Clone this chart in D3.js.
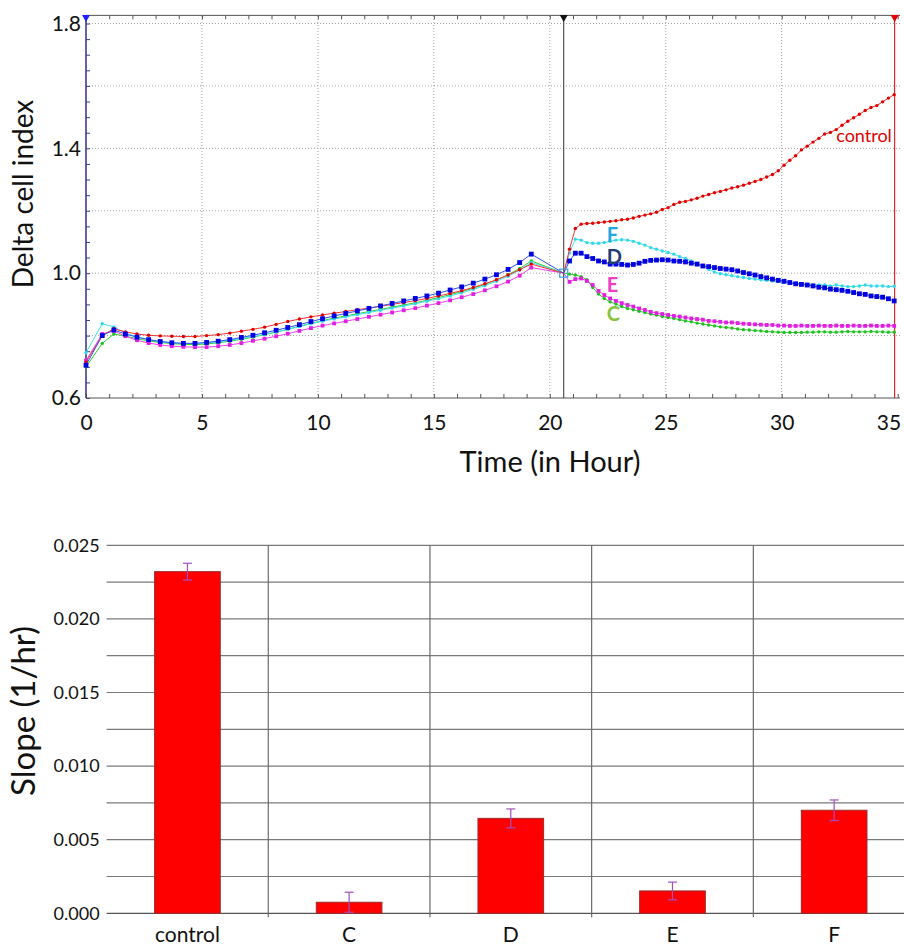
<!DOCTYPE html>
<html>
<head>
<meta charset="utf-8">
<script src="https://cdn.jsdelivr.net/npm/d3@7"></script>
<style>
  body { margin: 0; background: #fff; }
  svg { display: block; font-family: Lato, "Open Sans", sans-serif; }
</style>
</head>
<body>
<svg width="904" height="946"></svg>
<script>
// ---- top chart data: delta cell index over time ----
const hoursPre = [0, 0.7, 1.2, 1.7, 2.2, 2.7, 3.2, 3.7, 4.2, 4.7, 5.2, 5.7, 6.2, 6.7, 7.2, 7.7, 8.2, 8.7, 9.2, 9.7,
  10.2, 10.7, 11.2, 11.7, 12.2, 12.7, 13.2, 13.7, 14.2, 14.7, 15.2, 15.7, 16.2, 16.7, 17.2, 17.7, 18.2, 18.7, 19.2];
const normHour = 20.6;
const normValue = 1.0;
const hoursPost = [20.85, 21.1, 21.35, 21.6, 21.85, 22.1, 22.35, 22.6, 22.85, 23.1, 23.35, 23.6, 23.85, 24.1, 24.35,
  24.6, 24.85, 25.1, 25.35, 25.6, 25.85, 26.1, 26.35, 26.6, 26.85, 27.1, 27.35, 27.6, 27.85, 28.1, 28.35, 28.6,
  28.85, 29.1, 29.35, 29.6, 29.85, 30.1, 30.35, 30.6, 30.85, 31.1, 31.35, 31.6, 31.85, 32.1, 32.35, 32.6, 32.85,
  33.1, 33.35, 33.6, 33.85, 34.1, 34.35, 34.6, 34.85];

const controlPre = [0.715, 0.800, 0.822, 0.812, 0.805, 0.801, 0.799, 0.798, 0.797, 0.797, 0.800, 0.803, 0.808, 0.814,
  0.820, 0.827, 0.836, 0.845, 0.853, 0.860, 0.866, 0.872, 0.877, 0.883, 0.888, 0.894, 0.900, 0.906, 0.912, 0.919,
  0.927, 0.935, 0.944, 0.954, 0.966, 0.979, 0.994, 1.011, 1.029];
const controlPost = [1.077, 1.143, 1.157, 1.159, 1.160, 1.162, 1.164, 1.166, 1.168, 1.171, 1.173, 1.177, 1.182, 1.186,
  1.190, 1.195, 1.204, 1.210, 1.220, 1.227, 1.230, 1.235, 1.240, 1.247, 1.252, 1.258, 1.262, 1.267, 1.273, 1.277,
  1.282, 1.288, 1.294, 1.300, 1.308, 1.316, 1.328, 1.346, 1.362, 1.376, 1.395, 1.407, 1.420, 1.432, 1.446, 1.451,
  1.460, 1.474, 1.487, 1.498, 1.509, 1.521, 1.531, 1.537, 1.549, 1.561, 1.572];

const dPre = [0.705, 0.800, 0.818, 0.805, 0.795, 0.787, 0.781, 0.777, 0.775, 0.775, 0.778, 0.782, 0.787, 0.794, 0.801,
  0.809, 0.817, 0.826, 0.835, 0.845, 0.854, 0.863, 0.871, 0.879, 0.887, 0.895, 0.903, 0.911, 0.919, 0.927, 0.936,
  0.946, 0.956, 0.968, 0.981, 0.995, 1.012, 1.034, 1.061];
const dPost = [1.039, 1.064, 1.064, 1.053, 1.047, 1.039, 1.036, 1.029, 1.029, 1.028, 1.026, 1.028, 1.032, 1.038, 1.041,
  1.042, 1.043, 1.042, 1.039, 1.038, 1.036, 1.032, 1.029, 1.023, 1.021, 1.018, 1.015, 1.013, 1.011, 1.007, 1.002,
  0.998, 0.994, 0.989, 0.985, 0.981, 0.977, 0.974, 0.970, 0.966, 0.964, 0.962, 0.959, 0.955, 0.953, 0.949, 0.947,
  0.945, 0.942, 0.938, 0.934, 0.932, 0.927, 0.925, 0.923, 0.918, 0.911];

const fPre = [0.745, 0.838, 0.828, 0.808, 0.796, 0.787, 0.781, 0.777, 0.775, 0.775, 0.777, 0.780, 0.785, 0.791, 0.797,
  0.804, 0.812, 0.820, 0.829, 0.838, 0.846, 0.853, 0.860, 0.867, 0.874, 0.881, 0.888, 0.895, 0.902, 0.910, 0.918,
  0.927, 0.937, 0.948, 0.960, 0.974, 0.990, 1.010, 1.034];
const fPost = [1.065, 1.109, 1.106, 1.098, 1.096, 1.096, 1.098, 1.102, 1.106, 1.107, 1.106, 1.102, 1.096, 1.090, 1.082,
  1.077, 1.071, 1.066, 1.061, 1.053, 1.047, 1.039, 1.032, 1.022, 1.012, 1.004, 0.998, 0.995, 0.992, 0.989, 0.986,
  0.983, 0.981, 0.979, 0.977, 0.975, 0.973, 0.971, 0.969, 0.967, 0.965, 0.964, 0.963, 0.962, 0.962, 0.959, 0.962,
  0.959, 0.957, 0.957, 0.959, 0.962, 0.959, 0.959, 0.959, 0.957, 0.958];

const ePre = [0.720, 0.805, 0.815, 0.798, 0.785, 0.776, 0.770, 0.766, 0.764, 0.763, 0.763, 0.766, 0.770, 0.776, 0.783,
  0.790, 0.798, 0.806, 0.815, 0.824, 0.832, 0.839, 0.846, 0.853, 0.860, 0.867, 0.874, 0.881, 0.888, 0.896, 0.904,
  0.913, 0.923, 0.933, 0.945, 0.958, 0.973, 0.992, 1.018];
const ePost = [0.972, 0.981, 0.983, 0.975, 0.962, 0.943, 0.930, 0.919, 0.911, 0.904, 0.898, 0.893, 0.887, 0.882, 0.876,
  0.872, 0.869, 0.866, 0.863, 0.861, 0.858, 0.855, 0.853, 0.851, 0.847, 0.846, 0.844, 0.842, 0.842, 0.840, 0.838,
  0.837, 0.836, 0.835, 0.834, 0.834, 0.832, 0.832, 0.831, 0.831, 0.832, 0.831, 0.831, 0.832, 0.831, 0.831, 0.832,
  0.831, 0.831, 0.832, 0.831, 0.831, 0.832, 0.831, 0.831, 0.832, 0.831];

const cPre = [0.700, 0.775, 0.805, 0.798, 0.790, 0.783, 0.778, 0.774, 0.772, 0.771, 0.773, 0.777, 0.782, 0.788, 0.795,
  0.803, 0.811, 0.820, 0.830, 0.839, 0.848, 0.856, 0.863, 0.870, 0.877, 0.884, 0.891, 0.898, 0.905, 0.913, 0.922,
  0.931, 0.941, 0.952, 0.964, 0.978, 0.995, 1.015, 1.039];
const cPost = [0.997, 0.994, 0.989, 0.979, 0.954, 0.933, 0.919, 0.908, 0.901, 0.893, 0.887, 0.883, 0.878, 0.874, 0.869,
  0.866, 0.861, 0.858, 0.855, 0.851, 0.847, 0.844, 0.840, 0.837, 0.834, 0.831, 0.828, 0.826, 0.824, 0.821, 0.819,
  0.818, 0.816, 0.815, 0.813, 0.812, 0.811, 0.810, 0.810, 0.810, 0.810, 0.811, 0.811, 0.812, 0.812, 0.811, 0.811,
  0.812, 0.813, 0.812, 0.812, 0.812, 0.813, 0.812, 0.812, 0.811, 0.811];

const endHour = 34.87;

// ---- bottom chart data: slopes ----
const groups = ['control', 'C', 'D', 'E', 'F'];
const slopes = [0.02321, 0.00075, 0.00645, 0.00152, 0.00700];
const slopeErr = [0.00057, 0.00068, 0.00064, 0.00060, 0.00070];

const svg = d3.select('svg');

// ================= top chart =================
const xT = d3.scaleLinear().domain([0, 35.1]).range([86, 900]);
const yT = d3.scaleLinear().domain([0.6, 1.8]).range([398, 23.5]);
const yFrame = yT(1.826);

const gTop = svg.append('g');

gTop.selectAll('.vgrid').data([5, 10, 15, 20, 25, 30]).enter().append('line')
  .attr('x1', d => xT(d)).attr('x2', d => xT(d))
  .attr('y1', yT(0.6)).attr('y2', yFrame)
  .attr('stroke', '#a0a0a0').attr('stroke-dasharray', '1,2');
gTop.selectAll('.hgrid').data([0.8, 1.0, 1.2, 1.4, 1.6, 1.8]).enter().append('line')
  .attr('x1', xT(0)).attr('x2', xT(35.1))
  .attr('y1', d => yT(d)).attr('y2', d => yT(d))
  .attr('stroke', '#a0a0a0').attr('stroke-dasharray', '1,2');

// minor ticks
const hourTicks = d3.range(0, 36);
gTop.append('g').attr('transform', `translate(0,${yT(0.6)})`)
  .call(d3.axisTop(xT).tickValues(hourTicks).tickSize(4).tickFormat(''))
  .call(g => g.select('.domain').remove())
  .selectAll('line').attr('stroke', '#555');
gTop.append('g').attr('transform', `translate(0,${yFrame})`)
  .call(d3.axisBottom(xT).tickValues(hourTicks).tickSize(4).tickFormat(''))
  .call(g => g.select('.domain').remove())
  .selectAll('line').attr('stroke', '#555');
gTop.append('g').attr('transform', `translate(${xT(0)},0)`)
  .call(d3.axisRight(yT).tickValues(d3.range(0.6, 1.826, 0.05)).tickSize(4).tickFormat(''))
  .call(g => g.select('.domain').remove())
  .selectAll('line').attr('stroke', '#3c3c8c');

// frame lines
gTop.append('line').attr('x1', xT(0)).attr('x2', xT(35.1)).attr('y1', yT(0.6)).attr('y2', yT(0.6))
  .attr('stroke', '#555');
gTop.append('line').attr('x1', xT(0)).attr('x2', xT(35.1)).attr('y1', yFrame).attr('y2', yFrame)
  .attr('stroke', '#555');
gTop.append('line').attr('x1', xT(0)).attr('x2', xT(0)).attr('y1', yFrame).attr('y2', yT(0.6))
  .attr('stroke', '#3c3c8c').attr('stroke-width', 1.6);

// tick labels
gTop.append('g').attr('transform', `translate(0,${yT(0.6)})`)
  .call(d3.axisBottom(xT).tickValues(d3.range(0, 36, 5)).tickSize(0).tickPadding(17))
  .call(g => g.select('.domain').remove())
  .selectAll('text').attr('font-size', 21).attr('font-family', 'Lato, sans-serif').attr('fill', '#111')
  .filter(d => d === 35).attr('text-anchor', 'end').attr('dx', 3);
gTop.append('g').attr('transform', `translate(${xT(0)},0)`)
  .call(d3.axisLeft(yT).tickValues([0.6, 1.0, 1.4, 1.8]).tickSize(0).tickPadding(5).tickFormat(d3.format('.1f')))
  .call(g => g.select('.domain').remove())
  .selectAll('text').attr('font-size', 21).attr('font-family', 'Lato, sans-serif').attr('fill', '#111');

// marker lines
gTop.append('line').attr('x1', xT(normHour)).attr('x2', xT(normHour)).attr('y1', yFrame).attr('y2', yT(0.6))
  .attr('stroke', '#333');
gTop.append('line').attr('x1', xT(endHour)).attr('x2', xT(endHour)).attr('y1', yFrame).attr('y2', yT(0.6))
  .attr('stroke', '#e00000');
const tri = d3.symbol().type(d3.symbolTriangle).size(28);
[[0, '#2020ff'], [normHour, '#111'], [endHour, '#e00000']].forEach(([t, c]) => {
  gTop.append('path').attr('d', tri)
    .attr('transform', `translate(${xT(t)},${yFrame + 2}) rotate(180)`)
    .attr('fill', c);
});

// series
const series = [
  { name: 'C', pre: cPre, post: cPost, line: '#30d030', mark: '#20c020', shape: 'dot', r: 1.7 },
  { name: 'F', pre: fPre, post: fPost, line: '#40e0f0', mark: '#30d8ea', shape: 'dot', r: 1.7 },
  { name: 'E', pre: ePre, post: ePost, line: '#f040f0', mark: '#e020e0', shape: 'square', r: 1.9 },
  { name: 'control', pre: controlPre, post: controlPost, line: '#ff3030', mark: '#e00000', shape: 'dot', r: 1.7 },
  { name: 'D', pre: dPre, post: dPost, line: '#3050f0', mark: '#0000e0', shape: 'square', r: 2.4 }
];

const line = d3.line().x(d => xT(d[0])).y(d => yT(d[1]));

series.forEach(s => {
  const pts = hoursPre.map((h, i) => [h, s.pre[i]])
    .concat([[normHour, normValue]])
    .concat(hoursPost.map((h, i) => [h, s.post[i]]));
  gTop.append('path').datum(pts).attr('d', line)
    .attr('fill', 'none').attr('stroke', s.line).attr('stroke-width', 1);
  const marks = pts.filter(p => p[0] !== normHour);
  if (s.shape === 'square') {
    gTop.selectAll(null).data(marks).enter().append('rect')
      .attr('x', d => xT(d[0]) - s.r).attr('y', d => yT(d[1]) - s.r)
      .attr('width', s.r * 2).attr('height', s.r * 2).attr('fill', s.mark);
  } else {
    gTop.selectAll(null).data(marks).enter().append('circle')
      .attr('cx', d => xT(d[0])).attr('cy', d => yT(d[1])).attr('r', s.r).attr('fill', s.mark);
  }
});
gTop.append('rect').attr('x', xT(normHour) - 4).attr('y', yT(normValue) - 4)
  .attr('width', 8).attr('height', 8).attr('fill', 'none').attr('stroke', '#3aa0e0').attr('stroke-width', 1.2);

// series labels
const seriesLabels = [
  { text: 'control', t: 34.75, v: 1.42, color: '#e00000', anchor: 'end', weight: 'normal', size: 18 },
  { text: 'F', t: 22.45, v: 1.099, color: '#1ea7e1', anchor: 'start', weight: 'bold', size: 20 },
  { text: 'D', t: 22.45, v: 1.029, color: '#1f3c74', anchor: 'start', weight: 'bold', size: 20 },
  { text: 'E', t: 22.45, v: 0.939, color: '#ec3fc6', anchor: 'start', weight: 'bold', size: 20 },
  { text: 'C', t: 22.45, v: 0.846, color: '#86c440', anchor: 'start', weight: 'bold', size: 20 }
];
gTop.selectAll('.slabel').data(seriesLabels).enter().append('text')
  .attr('x', d => xT(d.t)).attr('y', d => yT(d.v))
  .attr('text-anchor', d => d.anchor).attr('fill', d => d.color)
  .attr('font-weight', d => d.weight).attr('font-size', d => d.size)
  .text(d => d.text);

// axis titles
gTop.append('text').attr('x', 550).attr('y', 472).attr('text-anchor', 'middle')
  .attr('font-size', 29).attr('fill', '#111').text('Time (in Hour)');
gTop.append('text').attr('transform', 'translate(33,194) rotate(-90)').attr('text-anchor', 'middle')
  .attr('font-size', 28).attr('fill', '#111').text('Delta cell index');

// ================= bottom chart =================
const xB = d3.scaleBand().domain(groups).range([106.6, 915]);
const yB = d3.scaleLinear().domain([0, 0.025]).range([913.3, 545.3]);
const bw = xB.bandwidth();
const barW = bw * 0.406;

const gBot = svg.append('g');

gBot.selectAll('.bgrid').data(d3.range(0, 0.02501, 0.0025)).enter().append('line')
  .attr('x1', xB.range()[0]).attr('x2', xB.range()[1])
  .attr('y1', d => yB(d)).attr('y2', d => yB(d))
  .attr('stroke', d => d === 0 ? '#555' : '#7a7a7a').attr('stroke-width', 1.2);
gBot.selectAll('.vsep').data(groups.slice(1)).enter().append('line')
  .attr('x1', d => xB(d)).attr('x2', d => xB(d))
  .attr('y1', yB(0.025)).attr('y2', yB(0) + 4)
  .attr('stroke', '#6a6a6a').attr('stroke-width', 1.2);

gBot.selectAll('.bar').data(groups).enter().append('rect')
  .attr('x', d => xB(d) + (bw - barW) / 2)
  .attr('y', (d, i) => yB(slopes[i]))
  .attr('width', barW)
  .attr('height', (d, i) => yB(0) - yB(slopes[i]))
  .attr('fill', '#ff0000').attr('stroke', '#9a2a2a').attr('stroke-width', 1);

const errG = gBot.selectAll('.err').data(groups).enter().append('g')
  .attr('stroke', '#a24fc0').attr('stroke-width', 1.2);
errG.append('line')
  .attr('x1', d => xB(d) + bw / 2).attr('x2', d => xB(d) + bw / 2)
  .attr('y1', (d, i) => yB(slopes[i] + slopeErr[i])).attr('y2', (d, i) => yB(slopes[i] - slopeErr[i]));
errG.append('line')
  .attr('x1', d => xB(d) + bw / 2 - 4.5).attr('x2', d => xB(d) + bw / 2 + 4.5)
  .attr('y1', (d, i) => yB(slopes[i] + slopeErr[i])).attr('y2', (d, i) => yB(slopes[i] + slopeErr[i]));
errG.append('line')
  .attr('x1', d => xB(d) + bw / 2 - 4.5).attr('x2', d => xB(d) + bw / 2 + 4.5)
  .attr('y1', (d, i) => yB(slopes[i] - slopeErr[i])).attr('y2', (d, i) => yB(slopes[i] - slopeErr[i]));

gBot.append('g').attr('transform', `translate(${xB.range()[0]},0)`)
  .call(d3.axisLeft(yB).tickValues([0, 0.005, 0.01, 0.015, 0.02, 0.025]).tickSize(0).tickPadding(7)
    .tickFormat(d3.format('.3f')))
  .call(g => g.select('.domain').remove())
  .selectAll('text').attr('font-size', 18).attr('font-family', 'Lato, sans-serif').attr('fill', '#111');
gBot.append('g').attr('transform', `translate(0,${yB(0)})`)
  .call(d3.axisBottom(xB).tickSize(0).tickPadding(14))
  .call(g => g.select('.domain').remove())
  .selectAll('text').attr('font-size', 21).attr('font-family', 'Lato, sans-serif').attr('fill', '#111');

gBot.append('text').attr('transform', 'translate(35,711) rotate(-90)').attr('text-anchor', 'middle')
  .attr('font-size', 33).attr('fill', '#111').text('Slope (1/hr)');
</script>
</body>
</html>
